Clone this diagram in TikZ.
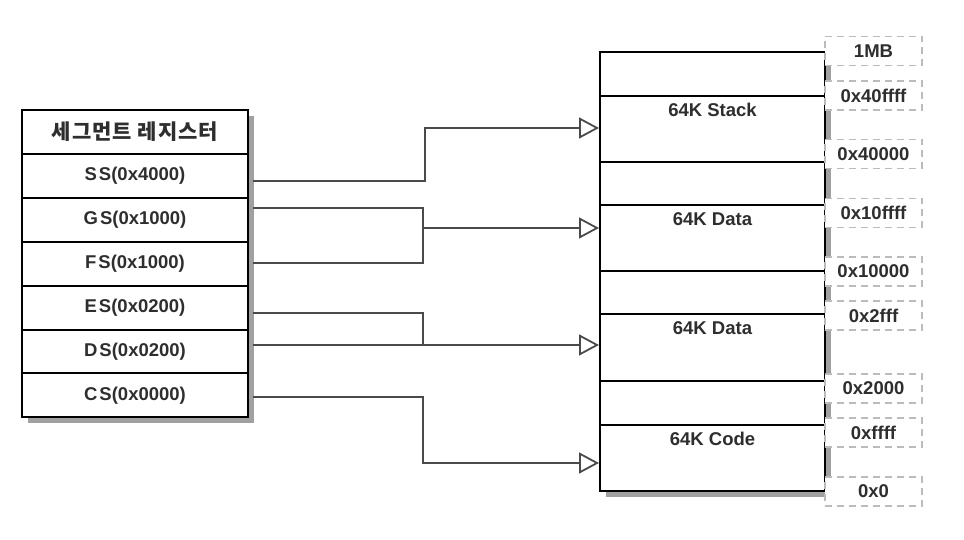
\documentclass[tikz,border=0pt]{standalone}
\usepackage{fontspec}
\setmainfont{Liberation Sans}
\newfontfamily\krfont{Noto Sans CJK KR}
\usetikzlibrary{arrows.meta}
\definecolor{txt}{HTML}{2E2E2E}
\definecolor{connc}{HTML}{4A4A4A}
\definecolor{shadowc}{HTML}{A0A0A0}
\definecolor{dashc}{HTML}{BBBBBB}
\begin{document}
\begin{tikzpicture}[x=1pt,y=-1pt,
  regrow/.style={draw=black, line width=2pt, fill=white, minimum width=226pt, minimum height=43.9pt, inner sep=0pt, text=txt, font=\fontsize{18.5}{21}\selectfont\bfseries},
  memsec/.style={draw=black, line width=2pt, fill=white, minimum width=225pt, inner sep=0pt},
  memlbl/.style={anchor=north, inner sep=0pt, text=txt, font=\fontsize{18.5}{21}\selectfont\bfseries},
  addr/.style={draw=dashc, dash pattern=on 7pt off 5pt, line width=1.6pt, fill=white, minimum width=97pt, minimum height=29pt, inner sep=0pt, text=txt, font=\fontsize{18.5}{21}\selectfont\bfseries},
  conn/.style={draw=connc, line width=1.5pt},
  arr/.style={-{Triangle[open, length=20pt, width=21pt, line width=1.8pt]}}
]
\useasboundingbox (0,0) rectangle (964,540);

% left table
\fill[shadowc] (28,116) rectangle (254,423);
\node[regrow] (hdr) at (135,132) {\krfont\bfseries\fontsize{21}{24}\selectfont 세\kern1pt 그\kern1pt 먼\kern1pt 트\kern1pt{} 레\kern1pt 지\kern1pt 스\kern1pt 터};
\node[regrow] (ss) at (135,175.9) {\raisebox{-1pt}{S\kern2pt S(0x4000)}};
\node[regrow] (gs) at (135,219.8) {\raisebox{-1pt}{G\kern2pt S(0x1000)}};
\node[regrow] (fs) at (135,263.7) {\raisebox{-1pt}{F\kern2pt S(0x1000)}};
\node[regrow] (es) at (135,307.6) {\raisebox{-1pt}{E\kern2pt S(0x0200)}};
\node[regrow] (ds) at (135,351.5) {\raisebox{-1pt}{D\kern2pt S(0x0200)}};
\node[regrow] (cs) at (135,395.4) {\raisebox{-1pt}{C\kern2pt S(0x0000)}};

% memory map
\fill[shadowc] (606,58) rectangle (831,497);
\node[memsec, minimum height=44pt] (g1) at (712.5,74) {};
\node[memsec, minimum height=66pt] (stack) at (712.5,129) {};
\node[memsec, minimum height=43pt] (g2) at (712.5,183.5) {};
\node[memsec, minimum height=66pt] (dataA) at (712.5,238) {};
\node[memsec, minimum height=43pt] (g3) at (712.5,292.5) {};
\node[memsec, minimum height=67pt] (dataB) at (712.5,347.5) {};
\node[memsec, minimum height=44pt] (g4) at (712.5,403) {};
\node[memsec, minimum height=66pt] (code) at (712.5,458) {};
\node[memlbl] (lstack) at ([yshift=-8pt]stack.north) {64K Stack};
\node[memlbl] (ldataA) at ([yshift=-8pt]dataA.north) {64K Data};
\node[memlbl] (ldataB) at ([yshift=-8pt]dataB.north) {64K Data};
\node[memlbl] (lcode) at ([yshift=-8pt]code.north) {64K Code};

% address labels
\node[addr] (a1) at (873.5,51) {1MB};
\node[addr] (a2) at (873.5,95.5) {0x40ffff};
\node[addr] (a3) at (873.5,154) {0x40000};
\node[addr] (a4) at (873.5,213) {0x10ffff};
\node[addr] (a5) at (873.5,271.5) {0x10000};
\node[addr] (a6) at (873.5,315.5) {0x2fff};
\node[addr] (a7) at (873.5,388.5) {0x2000};
\node[addr] (a8) at (873.5,432.5) {0xffff};
\node[addr] (a9) at (873.5,491.5) {0x0};

% connector points
\coordinate (pSS) at (253,181);
\coordinate (pGS) at (253,208);
\coordinate (pFS) at (253,263);
\coordinate (pES) at (253,313);
\coordinate (pDS) at (253,345);
\coordinate (pCS) at (253,397);
\coordinate (tS) at ([yshift=1pt]stack.west);
\coordinate (tA) at ([yshift=10pt]dataA.west);
\coordinate (tB) at ([yshift=2.5pt]dataB.west);
\coordinate (tC) at ([yshift=-5pt]code.west);

\draw[conn,arr] (pSS) -| ([xshift=-174pt]tS) -- (tS);
\draw[conn] (pGS) -| ([xshift=-176pt]tA) |- (pFS);
\draw[conn,arr] ([xshift=-176pt]tA) -- (tA);
\draw[conn] (pES) -| ([xshift=-176pt]tB);
\draw[conn,arr] (pDS) -- (tB);
\draw[conn,arr] (pCS) -| ([xshift=-176pt]tC) -- (tC);
\end{tikzpicture}
\end{document}
